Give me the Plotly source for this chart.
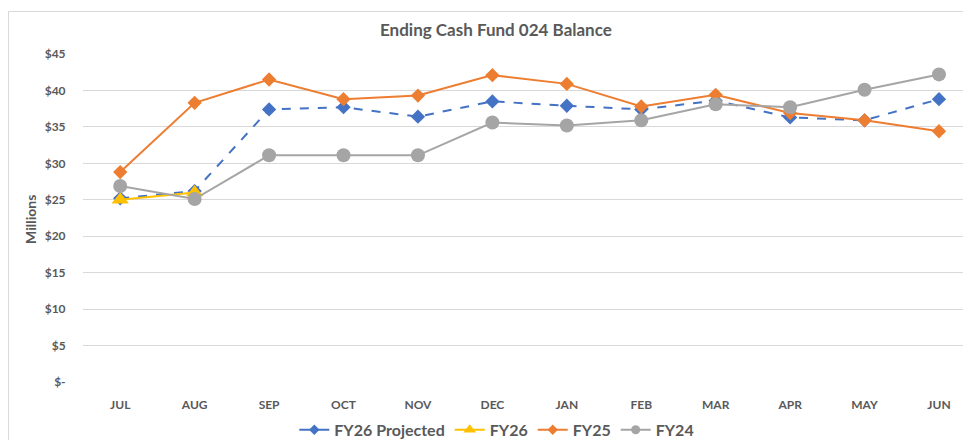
import plotly.graph_objects as go

months = ["JUL", "AUG", "SEP", "OCT", "NOV", "DEC", "JAN", "FEB", "MAR", "APR", "MAY", "JUN"]
fy26_projected = [25.2, 26.2, 37.4, 37.7, 36.4, 38.5, 37.9, 37.4, 38.6, 36.3, 35.9, 38.8]
fy26 = [25.0, 26.0]
fy25 = [28.8, 38.3, 41.5, 38.8, 39.3, 42.1, 40.9, 37.8, 39.4, 36.9, 35.9, 34.4]
fy24 = [26.9, 25.1, 31.1, 31.1, 31.1, 35.6, 35.2, 35.9, 38.1, 37.7, 40.1, 42.2]
y_ticks = [0, 5, 10, 15, 20, 25, 30, 35, 40, 45]
y_tick_text = ["$-", "$5", "$10", "$15", "$20", "$25", "$30", "$35", "$40", "$45"]

FONT = "Lato"
TXT = "#595959"

series = [
    ("FY26 Projected", months, fy26_projected, "#4472C4", "diamond", 11, "dash", 8),
    ("FY26", months[:len(fy26)], fy26, "#FFC000", "triangle-up", 15, "solid", 11),
    ("FY25", months, fy25, "#ED7D31", "diamond", 11, "solid", 8),
    ("FY24", months, fy24, "#A5A5A5", "circle", 14, "solid", 9),
]

fig = go.Figure()
for name, xs, ys, color, sym, size, dash, lsize in series:
    fig.add_trace(go.Scatter(x=xs, y=ys, name=name, mode="lines+markers", showlegend=False,
                             line=dict(color=color, width=2, dash=dash),
                             marker=dict(symbol=sym, size=size, color=color)))
# legend entries with smaller markers, as in the reference
for name, xs, ys, color, sym, size, dash, lsize in series:
    fig.add_trace(go.Scatter(x=[None], y=[None], name=name, mode="lines+markers", showlegend=True,
                             line=dict(color=color, width=2),
                             marker=dict(symbol=sym, size=lsize, color=color)))

fig.update_layout(
    template="none",
    width=971, height=440,
    margin=dict(l=75, r=8, t=46, b=66, autoexpand=False),
    paper_bgcolor="white", plot_bgcolor="white",
    font=dict(family=FONT, color=TXT, size=12, weight="bold"),
    title=dict(text="Ending Cash Fund 024 Balance", x=0.465, xref="paper", xanchor="center",
               y=1 - 22 / 440, yref="container", yanchor="middle",
               font=dict(family=FONT, size=17, color=TXT, weight="bold")),
    showlegend=True,
    legend=dict(orientation="h", x=0.466, xanchor="center", y=-0.146, yanchor="middle",
                font=dict(family=FONT, size=16, color=TXT, weight="bold"), tracegroupgap=0,
                traceorder="normal", bgcolor="rgba(0,0,0,0)"),
    xaxis=dict(type="category", range=[-0.5, 11.43], showgrid=False, showline=False, zeroline=False,
               automargin=False,
               ticks="outside", ticklen=12, tickcolor="rgba(0,0,0,0)",
               tickfont=dict(family=FONT, size=12, color=TXT, weight="bold"), fixedrange=True),
    yaxis=dict(range=[0, 45], tickvals=y_ticks, ticktext=y_tick_text, showgrid=True,
               automargin=False,
               gridcolor="#D9D9D9", gridwidth=1, zeroline=False, showline=False,
               ticks="outside", ticklen=14, tickcolor="rgba(0,0,0,0)",
               tickfont=dict(family=FONT, size=12, color=TXT, weight="bold")),
)

# y-axis title
fig.add_annotation(text="Millions", xref="paper", yref="paper", x=(30 - 83) / 888,
                   y=(382 - 220) / 328, textangle=-90, showarrow=False,
                   font=dict(family=FONT, size=14, color=TXT, weight="bold"),
                   xanchor="center", yanchor="middle")

# chart border (left and top)
bx = (0.5 - 75) / 888
by = (374 - 3.5) / 328
fig.add_shape(type="line", xref="paper", yref="paper", x0=bx, x1=bx,
              y0=by, y1=-0.3, line=dict(color="#D9D9D9", width=1))
fig.add_shape(type="line", xref="paper", yref="paper", x0=bx, x1=1.01,
              y0=by, y1=by, line=dict(color="#D9D9D9", width=1))

fig.write_html("out.html")
